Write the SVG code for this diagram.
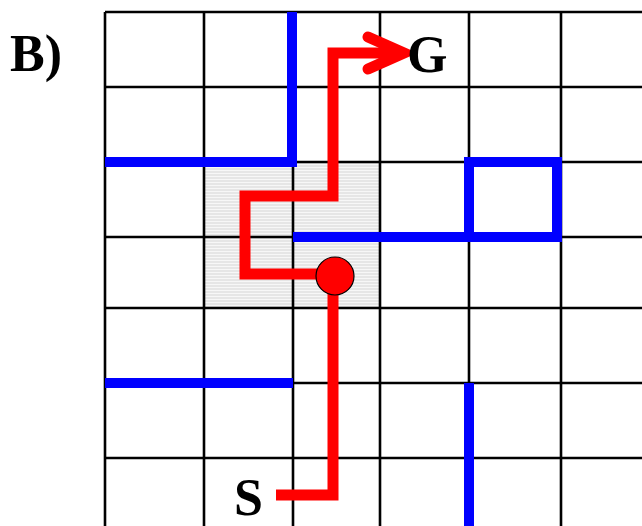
<svg xmlns="http://www.w3.org/2000/svg" width="642" height="526" viewBox="0 0 642 526">
  <style>
    .grid { stroke: #000; stroke-width: 2.6; fill: none; }
    .wall { stroke: #0000ff; stroke-width: 10; fill: none; stroke-linecap: butt; stroke-linejoin: miter; }
    .route { stroke: #ff0000; stroke-width: 11; fill: none; stroke-linecap: butt; stroke-linejoin: miter; }
    .lbl { font-family: "Liberation Serif", "Times New Roman", serif; font-weight: bold; font-size: 52px; fill: #000; }
  </style>
  <defs>
    <pattern id="stripes" patternUnits="userSpaceOnUse" width="8" height="3">
      <rect width="8" height="3" fill="#e6e6e6"/>
      <rect y="2" width="8" height="1" fill="#f7f7f7"/>
    </pattern>
  </defs>
  <rect width="642" height="526" fill="#ffffff"/>
  <g id="shade">
    <rect x="204" y="162" width="176" height="146" fill="url(#stripes)"/>
  </g>
  <g id="grid" class="grid">
    <path d="M105 12 V526 M204 12 V526 M293 12 V526 M380 12 V526 M469 12 V526 M561 12 V526"/>
    <path d="M105 12 H642 M105 87 H642 M105 162 H642 M105 237 H642 M105 308 H642 M105 383 H642 M105 458 H642"/>
  </g>
  <g id="walls" class="wall">
    <path d="M292 12 V162 H105"/>
    <path d="M293 237 H557 V162 H469 V237"/>
    <path d="M105 383 H293"/>
    <path d="M469 383 V526"/>
  </g>
  <g id="connectors">
    <path class="route" d="M276 495 H333 V278"/>
    <path class="route" d="M333 274 H245 V196 H333 V53 H398"/>
    <polyline points="368,37 404,53 368,69" fill="none" stroke="#ff0000" stroke-width="11" stroke-linecap="round" stroke-linejoin="miter"/>
  </g>
  <g id="robot">
    <circle cx="335" cy="276" r="19" fill="#ff0000" stroke="#000" stroke-width="1.2"/>
  </g>
  <g id="label-B">
    <text class="lbl" x="10" y="71">B)</text>
  </g>
  <g id="goal">
    <text class="lbl" x="407" y="72">G</text>
  </g>
  <g id="start">
    <text class="lbl" x="234" y="515">S</text>
  </g>
</svg>
